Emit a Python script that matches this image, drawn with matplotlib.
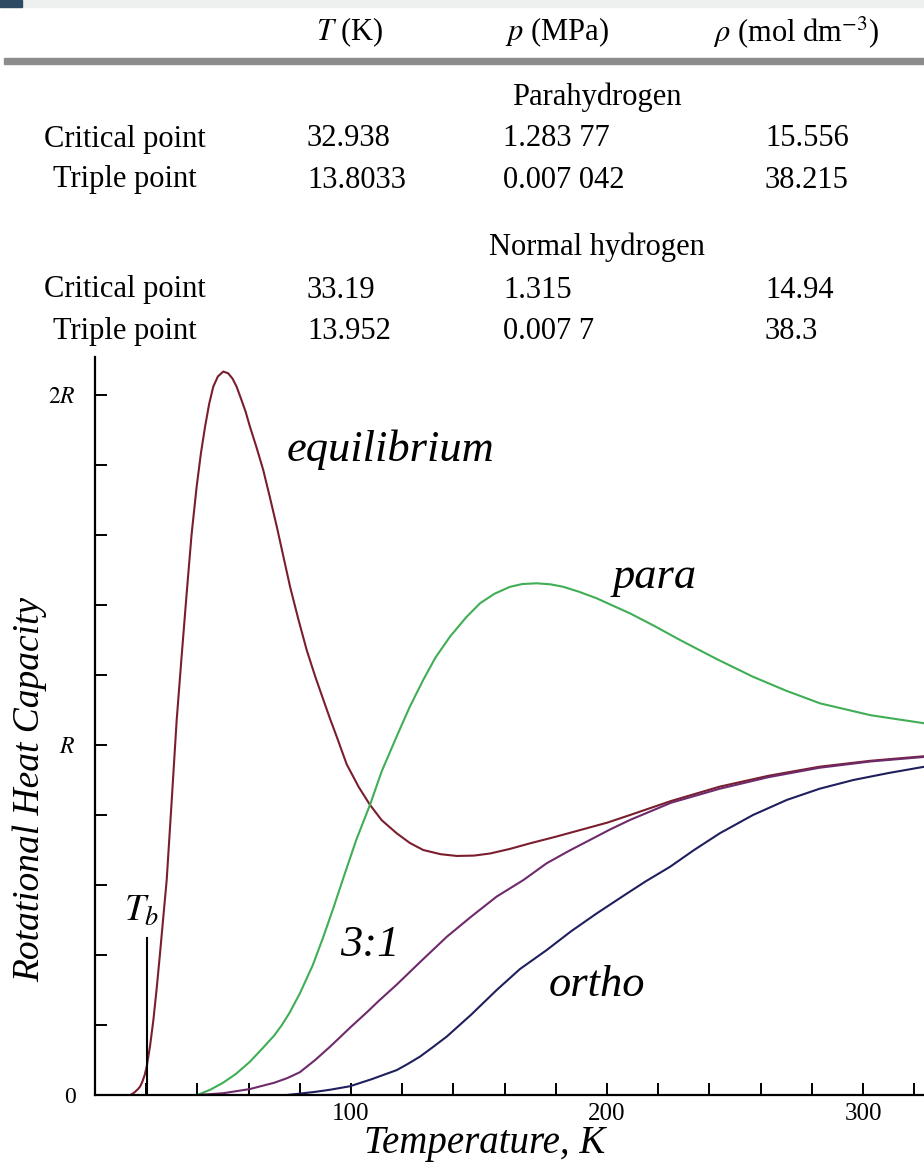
import matplotlib
matplotlib.use("Agg")
import matplotlib.pyplot as plt

plt.rcParams["font.family"] = ["Liberation Serif", "DejaVu Serif"]
plt.rcParams["mathtext.fontset"] = "stix"

# Table of fixed points
col_heads = ["$T$ (K)", "$p$ (MPa)", r"$\rho$ (mol dm$^{-3}$)"]
sections = ["Parahydrogen", "Normal hydrogen"]
row_names = ["Critical point", "Triple point"]
para_rows = [["32.938", "1.283 77", "15.556"],
             ["13.8033", "0.007 042", "38.215"]]
normal_rows = [["33.19", "1.315", "14.94"],
               ["13.952", "0.007 7", "38.3"]]

# Rotational heat capacity curves, in units of R
eq_T = [13.7, 14.8, 15.8, 16.8, 17.6, 18.5, 19.4, 20.2, 21.5, 22.8, 24.1, 25.4,
        26.7, 28.0, 29.9, 31.9, 33.8, 35.8, 37.7, 39.7, 41.4, 43.0, 44.6, 46.2,
        48.0, 50.1, 52.0, 53.7, 55.3, 57.0, 58.8, 60.5, 63.1, 65.7, 68.3, 71.0,
        73.6, 76.2, 79.4, 82.7, 86.0, 89.2, 91.8, 94.4, 98.3, 103, 107.4, 112,
        117.8, 123, 128.2, 135, 141.3, 148, 154.3, 162, 169.9, 180, 189.5, 200,
        209, 225, 244, 263, 283, 303, 324]
eq_C = [0.0, 0.004, 0.01, 0.017, 0.024, 0.038, 0.057, 0.081, 0.14, 0.214,
        0.305, 0.405, 0.51, 0.614, 0.834, 1.071, 1.25, 1.433, 1.6, 1.738,
        1.835, 1.91, 1.975, 2.024, 2.053, 2.067, 2.062, 2.047, 2.024, 1.99,
        1.953, 1.91, 1.85, 1.786, 1.708, 1.624, 1.538, 1.452, 1.36, 1.271,
        1.196, 1.129, 1.075, 1.024, 0.945, 0.88, 0.829, 0.785, 0.748, 0.72,
        0.70, 0.688, 0.683, 0.684, 0.69, 0.703, 0.719, 0.738, 0.757, 0.778,
        0.80, 0.84, 0.881, 0.912, 0.938, 0.955, 0.968]

para_T = [40, 45, 50, 55, 60.5, 65, 70, 73, 76, 80, 85, 89, 93, 97, 102, 107.4,
          112, 117.8, 123, 128.2, 133, 138.7, 145, 150.4, 156, 162.1, 167,
          172.5, 178, 182.9, 189, 196, 202, 209, 218, 228.5, 243, 257, 270,
          283.2, 303, 324]
para_C = [0.0, 0.015, 0.035, 0.06, 0.095, 0.13, 0.17, 0.2, 0.235, 0.29,
          0.37, 0.448, 0.532, 0.62, 0.728, 0.829, 0.925, 1.024, 1.11, 1.186,
          1.25, 1.31, 1.365, 1.405, 1.432, 1.452, 1.46, 1.462, 1.459, 1.452,
          1.438, 1.419, 1.399, 1.376, 1.342, 1.30, 1.245, 1.195, 1.155, 1.119,
          1.085, 1.062]

mix_T = [40, 50, 60.5, 70, 75, 80, 86, 91.8, 95.7, 100, 106, 111, 117.8, 127,
         137.4, 147, 156.9, 167.3, 176.4, 185, 193.4, 201, 209, 225, 244, 263,
         283, 303, 324]
mix_C = [0.0, 0.005, 0.017, 0.035, 0.048, 0.065, 0.1, 0.138, 0.165, 0.195,
         0.235, 0.27, 0.315, 0.38, 0.452, 0.51, 0.567, 0.614, 0.662, 0.697,
         0.729, 0.758, 0.786, 0.835, 0.875, 0.908, 0.935, 0.953, 0.966]

ortho_T = [75, 80, 86, 91.8, 99.6, 108, 117.8, 122, 127, 132, 137.4, 147, 156.9,
           166, 176.4, 186, 196, 207, 215, 224.6, 234, 244.1, 257, 270.2, 283,
           296.2, 310, 324]
ortho_C = [0.0, 0.004, 0.009, 0.015, 0.025, 0.045, 0.071, 0.088, 0.11, 0.137,
           0.167, 0.23, 0.30, 0.36, 0.414, 0.468, 0.519, 0.572, 0.61, 0.652,
           0.70, 0.748, 0.80, 0.843, 0.875, 0.90, 0.92, 0.938]

T_boil = 20.2
T_boil_top = 0.45

W, H = 924, 1171
fig = plt.figure(figsize=(W / 100, H / 100), dpi=100)


def fx(x):
    return x / W


def fy(y):
    return 1 - y / H


# header strip and table
fig.patches.append(plt.Rectangle((0, fy(7)), 1, 7 / H, transform=fig.transFigure,
                                 color="#eef0f0", zorder=0))
fig.patches.append(plt.Rectangle((0, fy(7)), 22 / W, 7 / H, transform=fig.transFigure,
                                 color="#2e4a62", zorder=1))
fig.patches.append(plt.Rectangle((fx(4), fy(64)), 1, 6 / H, transform=fig.transFigure,
                                 color="#8c8c8c", zorder=1))

tsize = 22
for x, txt in zip([350, 557, 796], col_heads):
    fig.text(fx(x), fy(32), txt, ha="center", va="center", fontsize=tsize)

col_x = [307, 503, 765]
for sec_y, sec, rows, row_y in [(97, sections[0], para_rows, [139, 180]),
                                (247, sections[1], normal_rows, [290, 331])]:
    fig.text(fx(597), fy(sec_y), sec, ha="center", va="center", fontsize=tsize)
    for name, vals, y in zip(row_names, rows, row_y):
        fig.text(fx(125), fy(y), name, ha="center", va="center", fontsize=tsize)
        for x, v in zip(col_x, vals):
            fig.text(fx(x), fy(y), v, ha="left", va="center", fontsize=tsize)

# heat capacity chart
ax = fig.add_axes([fx(95), fy(1095), 1 - fx(95), (1095 - 357) / H])
ax.set_xlim(0, 323.8)
ax.set_ylim(0, (1095 - 357) / 350)

lw = 1.5
ax.plot(eq_T, eq_C, color="#7a1e2e", lw=lw)
ax.plot(para_T, para_C, color="#3fae55", lw=lw)
ax.plot(mix_T, mix_C, color="#6e2a6a", lw=lw)
ax.plot(ortho_T, ortho_C, color="#1f1f5e", lw=lw)
ax.plot([T_boil, T_boil], [0, T_boil_top], color="black", lw=1.5)

for s in ["top", "right"]:
    ax.spines[s].set_visible(False)
for s in ["left", "bottom"]:
    ax.spines[s].set_linewidth(1.6)

ax.set_xticks([100, 200, 300])
ax.set_xticks(range(20, 321, 20), minor=True)
ax.set_yticks([0, 1, 2])
ax.set_yticklabels(["0", "$R$", "$2R$"])
ax.set_yticks([0.2 * i for i in range(1, 11)], minor=True)
ax.tick_params(which="both", direction="in", length=8.6, width=1.4)
ax.tick_params(axis="x", labelsize=18, pad=6)
ax.tick_params(axis="y", labelsize=17, pad=14)

lbl = dict(style="italic", fontsize=32, ha="center", va="center")
ax.text(fx(390), fy(450), "equilibrium", transform=fig.transFigure, **lbl)
ax.text(fx(655), fy(577), "para", transform=fig.transFigure, **lbl)
ax.text(fx(370), fy(945), "3:1", transform=fig.transFigure, **lbl)
ax.text(fx(597), fy(985), "ortho", transform=fig.transFigure, **lbl)
ax.text(fx(142), fy(912), "$T_b$", transform=fig.transFigure, fontsize=27,
        ha="center", va="center")

fig.text(fx(30), fy(790), "Rotational Heat Capacity", rotation=90,
         style="italic", fontsize=27, ha="center", va="center")
fig.text(fx(485), fy(1143), "Temperature, K", style="italic", fontsize=28,
         ha="center", va="center")

fig.savefig("out.png", dpi=100)
